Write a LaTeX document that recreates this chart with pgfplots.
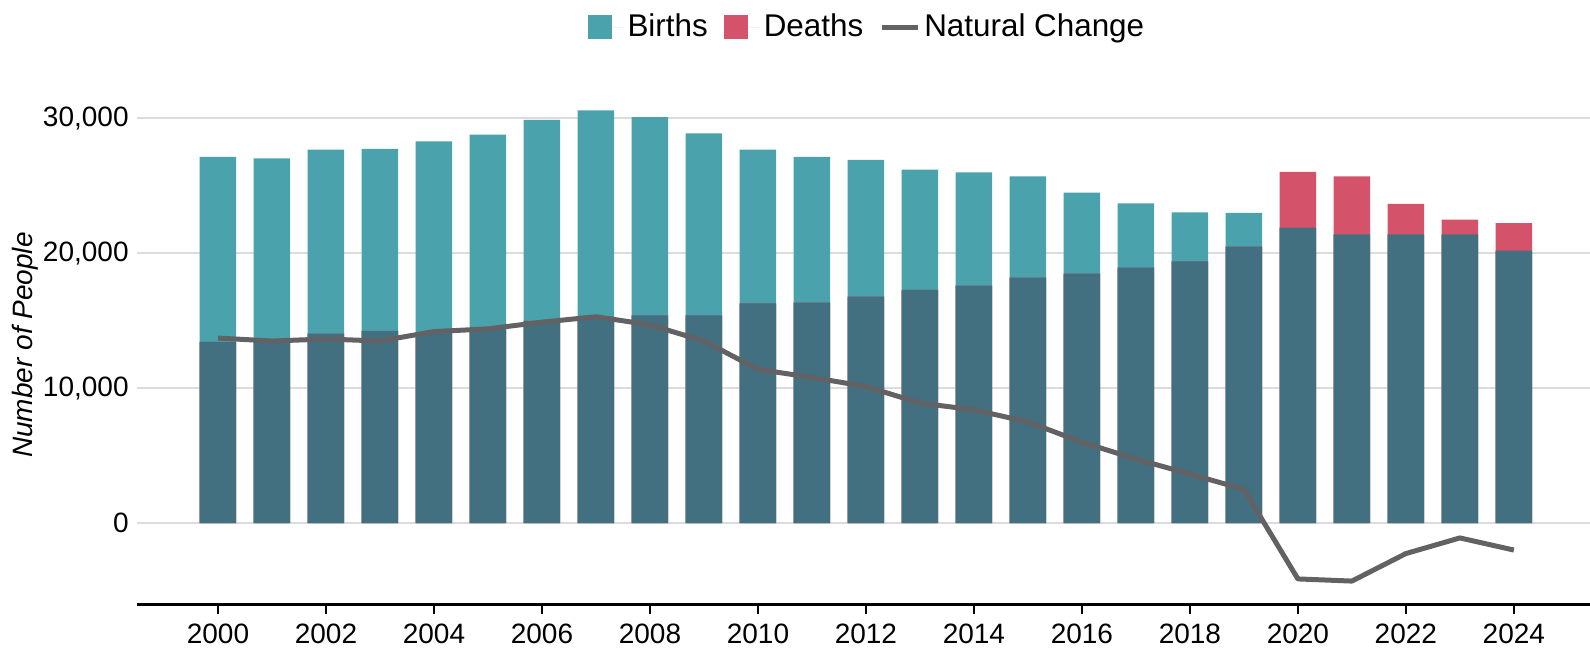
\documentclass[border=0pt]{standalone}
\usepackage{pgfplots}
\pgfplotsset{compat=1.18}
\usepackage{pgfplotstable}
\usepackage{fontspec}
\setmainfont{Liberation Sans}
\definecolor{births}{RGB}{74,162,172}
\definecolor{deaths}{RGB}{212,82,106}
\definecolor{overlap}{RGB}{66,112,128}
\definecolor{nc}{RGB}{98,98,100}
\definecolor{gridc}{RGB}{220,220,220}

\pgfplotstableread{
year B D N
2000 27150 13430 13720
2001 27050 13550 13500
2002 27700 14050 13650
2003 27750 14250 13500
2004 28300 14100 14200
2005 28800 14400 14400
2006 29900 15000 14900
2007 30600 15300 15300
2008 30100 15400 14700
2009 28900 15400 13500
2010 27700 16300 11400
2011 27150 16350 10800
2012 26930 16800 10130
2013 26200 17300 8900
2014 26000 17600 8400
2015 25700 18200 7500
2016 24500 18500 6000
2017 23700 18950 4750
2018 23040 19400 3640
2019 23000 20500 2500
2020 21900 26040 -4140
2021 21400 25700 -4300
2022 21400 23660 -2260
2023 21400 22500 -1100
2024 20200 22250 -2000
}\data

\begin{document}
\begin{tikzpicture}[font=\fontsize{14}{17}\selectfont]
\useasboundingbox (-68.5pt,-25.5pt) rectangle (726.5pt,302pt);
\begin{axis}[
  scale only axis, width=726.5pt, height=249.5pt,
  xmin=1998.5, xmax=2025.41, ymin=-6000, ymax=31000,
  axis x line=bottom, axis y line=left,
  x axis line style={-, line width=1.5pt, black},
  y axis line style={draw=none},
  xtick={2000,2002,...,2024},
  xticklabels={2000,2002,2004,2006,2008,2010,2012,2014,2016,2018,2020,2022,2024},
  xtick align=outside, major tick length=5pt,
  xtick style={black, line width=1pt},
  ytick={0,10000,20000,30000},
  yticklabels={0,{10,000},{20,000},{30,000}},
  ytick style={draw=none},
  scaled y ticks=false,
  ymajorgrids, grid style={gridc, line width=1pt},
  yticklabel style={inner xsep=1.5pt},
  xticklabel style={yshift=-1.5pt},
  ylabel={\itshape Number of People},
  ylabel style={at={(rel axis cs:-0.0768,0.519)}, anchor=center},
  legend columns=-1,
  legend style={at={(rel axis cs:0.503,1)}, anchor=center, yshift=39pt, draw=none, fill=none,
    font=\fontsize{15.7}{19}\selectfont,
    /tikz/every even column/.append style={column sep=6pt}},
]
\addplot[ybar, bar width=18.25pt, bar shift=0pt, fill=births, draw=none,
  legend image code/.code={\fill[births] (0pt,-6pt) rectangle (12pt,6pt); \path (12pt,0pt) -- (18pt,0pt);}]
  table[x=year,y=B]{\data};
\addplot[ybar, bar width=18.25pt, bar shift=0pt, fill=deaths, draw=none,
  legend image code/.code={\fill[deaths] (0pt,-6pt) rectangle (12pt,6pt); \path (12pt,0pt) -- (18pt,0pt);}]
  table[x=year,y=D]{\data};
\addplot[ybar, bar width=18.25pt, bar shift=0pt, fill=overlap, draw=none, forget plot]
  table[x=year, y expr={min(\thisrow{B},\thisrow{D})}]{\data};
\addplot[nc, line width=2.5pt, mark=none, line join=round,
  legend image code/.code={\draw[nc, line width=2.5pt] (0pt,0pt) -- (11.5pt,0pt); \path (11.5pt,0pt) -- (18pt,0pt);}]
  table[x=year,y=N]{\data};
\legend{Births,Deaths,Natural Change}
\end{axis}
\end{tikzpicture}
\end{document}
